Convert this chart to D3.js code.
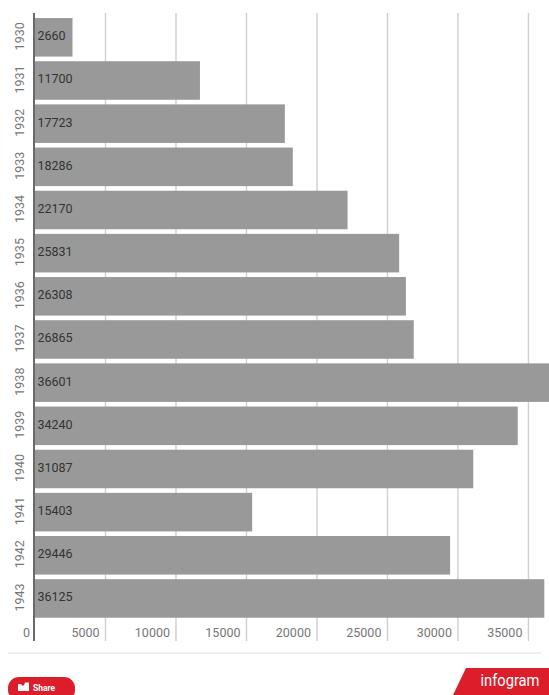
<!DOCTYPE html>
<html><head><meta charset="utf-8">
<script src="https://cdnjs.cloudflare.com/ajax/libs/d3/7.8.5/d3.min.js"></script>
<style>html,body{margin:0;padding:0;background:#fff;overflow:hidden}svg{display:block}text{font-family:Roboto,"Liberation Sans",sans-serif}</style>
</head><body><svg id="c" width="549" height="695"></svg>
<script>
const years=["1930","1931","1932","1933","1934","1935","1936","1937","1938","1939","1940","1941","1942","1943"];
const values=[2660,11700,17723,18286,22170,25831,26308,26865,36601,34240,31087,15403,29446,36125];
const ticks=[0,5000,10000,15000,20000,25000,30000,35000];
const svg=d3.select("#c");
const x=d3.scaleLinear().domain([0,36601]).range([35,551]);
const y=d3.scaleBand().domain(years).range([15.9,619.9]).paddingInner(0.107).paddingOuter(0.05);
const plotTop=13,plotBot=641;
svg.append("g").selectAll("line").data(ticks.slice(1)).join("line")
 .attr("x1",d=>x(d)).attr("x2",d=>x(d)).attr("y1",plotTop).attr("y2",plotBot)
 .attr("stroke","#cfcfcf").attr("stroke-width",1.4);
svg.append("g").selectAll("rect").data(values).join("rect")
 .attr("x",x(0)).attr("y",(d,i)=>y(years[i])).attr("width",d=>x(d)-x(0)).attr("height",y.bandwidth())
 .attr("fill","#999999");
svg.append("line").attr("x1",x(0)-1).attr("x2",x(0)-1).attr("y1",plotTop).attr("y2",plotBot)
 .attr("stroke","#444").attr("stroke-width",1.6);
svg.append("g").selectAll("text").data(values).join("text")
 .attr("x",x(0)+2.5).attr("y",(d,i)=>y(years[i])+y.bandwidth()/2+3)
 .attr("font-size",12.5).attr("fill","#333").text(d=>d);
svg.append("g").selectAll("text").data(years).join("text")
 .attr("transform",d=>`translate(24,${y(d)+y.bandwidth()/2-1}) rotate(-90)`)
 .attr("text-anchor","middle").attr("font-size",12.5).attr("fill","#777").text(d=>d);
svg.append("g").selectAll("text").data(ticks).join("text")
 .attr("x",d=>x(d)-(d?6:5)).attr("y",637).attr("text-anchor","end")
 .attr("font-size",12.5).attr("fill","#777").text(d=>d);
svg.append("line").attr("x1",8).attr("x2",541).attr("y1",653).attr("y2",653).attr("stroke","#e8e8e8").attr("stroke-width",1.5);
svg.append("rect").attr("x",8).attr("y",677).attr("width",67).attr("height",24).attr("rx",11).attr("fill","#dc1e2a");
svg.append("text").attr("x",33).attr("y",691).attr("font-size",8.5).attr("font-weight",700).attr("fill","#fff").text("Share");
svg.append("path").attr("d","M18 691v-7h3l1 1.5h2l1-3h4v8.500z").attr("fill","#fff");
svg.append("path").attr("d","M466 668H549V695H453Z").attr("fill","#dc1e2a");
svg.append("text").attr("x",480.5).attr("y",686).attr("font-size",16).attr("fill","#fff").attr("textLength",59).attr("lengthAdjust","spacingAndGlyphs").text("infogram");
</script></body></html>
